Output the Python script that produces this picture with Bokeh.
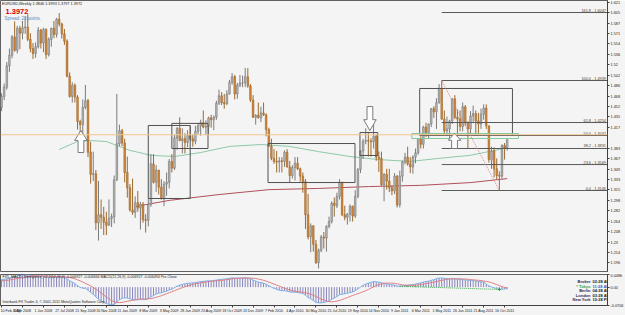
from bokeh.plotting import figure
from bokeh.layouts import column
from bokeh.models import ColumnDataSource, FixedTicker, Range1d, Label, Span
from bokeh.embed import file_html
from bokeh.resources import INLINE
from bokeh.core.properties import value

# ---------------- data ----------------
date_labels = ["10 Feb 2008", "6 Apr 2008", "1 Jun 2008", "27 Jul 2008", "21 Sep 2008", "16 Nov 2008",
               "11 Jan 2009", "8 Mar 2009", "3 May 2009", "28 Jun 2009", "23 Aug 2009", "18 Oct 2009",
               "13 Dec 2009", "7 Feb 2010", "4 Apr 2010", "30 May 2010", "25 Jul 2010", "19 Sep 2010",
               "14 Nov 2010", "9 Jan 2011", "6 Mar 2011", "1 May 2011", "26 Jun 2011", "21 Aug 2011",
               "16 Oct 2011"]
date_label_weeks = [0, 8, 16, 24, 32, 40, 48, 56, 64, 72, 80, 88, 96, 104, 112, 120, 128, 136, 144,
                    152, 160, 168, 176, 184, 192]

first_open = 1.4500
closes = [
    1.4680, 1.4830, 1.5180, 1.5350, 1.5650, 1.5430, 1.5790, 1.5710, 1.5800, 1.5810,
    1.5610, 1.5460, 1.5380, 1.5490, 1.5760, 1.5550, 1.5770, 1.5360, 1.5610, 1.5790,
    1.5690, 1.5940, 1.5860, 1.5700, 1.5580, 1.5010, 1.4680, 1.4860, 1.4670, 1.4270,
    1.4220, 1.4500, 1.4610, 1.3770, 1.3410, 1.3420, 1.2620, 1.2750, 1.2710, 1.2630,
    1.2580, 1.2690, 1.2720, 1.3320, 1.3910, 1.4120, 1.3920, 1.3440, 1.3190, 1.2830,
    1.2790, 1.2950, 1.2860, 1.2920, 1.2670, 1.2660, 1.2920, 1.3580, 1.3280, 1.3480,
    1.3200, 1.3010, 1.3250, 1.3280, 1.3620, 1.3510, 1.4000, 1.4160, 1.3960, 1.3990,
    1.3930, 1.4040, 1.3990, 1.3950, 1.4110, 1.4200, 1.4250, 1.4180, 1.4190, 1.4330,
    1.4300, 1.4340, 1.4570, 1.4690, 1.4580, 1.4560, 1.4720, 1.4910, 1.5000, 1.4720,
    1.4860, 1.4900, 1.4900, 1.5000, 1.4850, 1.4620, 1.4340, 1.4370, 1.4330, 1.4410,
    1.4380, 1.4140, 1.3870, 1.3670, 1.3620, 1.3610, 1.3630, 1.3620, 1.3770, 1.3530,
    1.3390, 1.3520, 1.3590, 1.3500, 1.3380, 1.3290, 1.2750, 1.2390, 1.2570, 1.2270,
    1.1970, 1.2170, 1.2390, 1.2370, 1.2560, 1.2640, 1.2940, 1.2900, 1.3050, 1.3280,
    1.2750, 1.2710, 1.2760, 1.2890, 1.2730, 1.3050, 1.3490, 1.3790, 1.3950, 1.3960,
    1.3950, 1.3940, 1.4030, 1.3690, 1.3670, 1.3240, 1.3410, 1.3300, 1.3190, 1.3140,
    1.3380, 1.2910, 1.3380, 1.3610, 1.3690, 1.3580, 1.3530, 1.3690, 1.3760, 1.3990,
    1.3900, 1.4180, 1.4090, 1.4230, 1.4480, 1.4430, 1.4580, 1.4810, 1.4310, 1.4120,
    1.4150, 1.4280, 1.4640, 1.4340, 1.4310, 1.4190, 1.4510, 1.4260, 1.4150, 1.4360,
    1.4400, 1.4280, 1.4230, 1.4390, 1.4490, 1.4200, 1.3650, 1.3790, 1.3500, 1.3390,
    1.3380, 1.3880, 1.3846, 1.3972]
highs = [
    1.4730, 1.4890, 1.5240, 1.5460, 1.5680, 1.5903, 1.5830, 1.5830, 1.5910, 1.5980,
    1.6019, 1.5710, 1.5550, 1.5560, 1.5810, 1.5780, 1.5800, 1.5790, 1.5640, 1.5800,
    1.5910, 1.5960, 1.6038, 1.5880, 1.5780, 1.5610, 1.5070, 1.4910, 1.4890, 1.4700,
    1.4300, 1.4630, 1.4867, 1.4640, 1.3940, 1.3780, 1.3480, 1.3300, 1.3000, 1.2880,
    1.2800, 1.3000, 1.2770, 1.3390, 1.4720, 1.4220, 1.4150, 1.3990, 1.3700, 1.3250,
    1.3340, 1.3050, 1.3140, 1.2960, 1.2960, 1.2760, 1.3010, 1.3740, 1.3740, 1.3560,
    1.3480, 1.3330, 1.3300, 1.3440, 1.3660, 1.3740, 1.4050, 1.4180, 1.4340, 1.4160,
    1.4080, 1.4130, 1.4200, 1.4060, 1.4200, 1.4250, 1.4300, 1.4450, 1.4290, 1.4350,
    1.4380, 1.4370, 1.4610, 1.4790, 1.4750, 1.4720, 1.4780, 1.4950, 1.5060, 1.5030,
    1.4900, 1.5030, 1.5020, 1.5144, 1.5140, 1.4880, 1.4700, 1.4390, 1.4580, 1.4510,
    1.4580, 1.4400, 1.4170, 1.3990, 1.3820, 1.3790, 1.3690, 1.3690, 1.3800, 1.3820,
    1.3630, 1.3560, 1.3690, 1.3690, 1.3520, 1.3440, 1.3330, 1.3090, 1.2610, 1.2580,
    1.2340, 1.2200, 1.2420, 1.2470, 1.2580, 1.2720, 1.2970, 1.3030, 1.3110, 1.3330,
    1.3290, 1.2900, 1.2780, 1.2920, 1.2900, 1.3150, 1.3510, 1.3800, 1.3990, 1.4160,
    1.4090, 1.4000, 1.4281, 1.4060, 1.3780, 1.3780, 1.3430, 1.3500, 1.3500, 1.3230,
    1.3430, 1.3400, 1.3470, 1.3630, 1.3760, 1.3860, 1.3690, 1.3720, 1.3830, 1.4000,
    1.4030, 1.4200, 1.4250, 1.4240, 1.4490, 1.4520, 1.4650, 1.4880, 1.4939, 1.4450,
    1.4350, 1.4300, 1.4650, 1.4700, 1.4470, 1.4450, 1.4580, 1.4540, 1.4270, 1.4440,
    1.4530, 1.4450, 1.4410, 1.4480, 1.4550, 1.4550, 1.4200, 1.3860, 1.3850, 1.3670,
    1.3460, 1.3900, 1.3920, 1.3993]
lows = [
    1.4440, 1.4620, 1.4790, 1.5080, 1.5300, 1.5410, 1.5380, 1.5450, 1.5610, 1.5700,
    1.5580, 1.5400, 1.5290, 1.5310, 1.5460, 1.5460, 1.5400, 1.5290, 1.5330, 1.5490,
    1.5630, 1.5640, 1.5820, 1.5620, 1.5520, 1.4990, 1.4660, 1.4580, 1.4580, 1.4140,
    1.3880, 1.4010, 1.4470, 1.3690, 1.3260, 1.3300, 1.2500, 1.2330, 1.2520, 1.2420,
    1.2420, 1.2570, 1.2550, 1.2610, 1.3300, 1.3870, 1.3870, 1.3280, 1.3030, 1.2800,
    1.2750, 1.2700, 1.2800, 1.2510, 1.2620, 1.2460, 1.2560, 1.2880, 1.3260, 1.3120,
    1.3080, 1.3000, 1.2890, 1.3060, 1.3180, 1.3440, 1.3480, 1.3810, 1.3950, 1.3750,
    1.3750, 1.3850, 1.3960, 1.3860, 1.3900, 1.4060, 1.4040, 1.4160, 1.4050, 1.4050,
    1.4170, 1.4130, 1.4300, 1.4540, 1.4540, 1.4480, 1.4540, 1.4710, 1.4870, 1.4630,
    1.4640, 1.4830, 1.4830, 1.4830, 1.4820, 1.4590, 1.4330, 1.4220, 1.4320, 1.4260,
    1.4360, 1.4030, 1.3860, 1.3640, 1.3580, 1.3440, 1.3440, 1.3440, 1.3530, 1.3520,
    1.3270, 1.3340, 1.3310, 1.3480, 1.3290, 1.3110, 1.2520, 1.2350, 1.2140, 1.2150,
    1.1950, 1.1876, 1.2140, 1.2200, 1.2150, 1.2530, 1.2610, 1.2720, 1.2860, 1.3000,
    1.2730, 1.2660, 1.2590, 1.2640, 1.2640, 1.2700, 1.3020, 1.3430, 1.3660, 1.3900,
    1.3700, 1.3700, 1.3830, 1.3630, 1.3450, 1.3220, 1.2970, 1.3160, 1.3120, 1.3070,
    1.3090, 1.2870, 1.2870, 1.3290, 1.3570, 1.3550, 1.3430, 1.3420, 1.3590, 1.3730,
    1.3830, 1.3830, 1.4020, 1.4000, 1.4180, 1.4330, 1.4150, 1.4560, 1.4300, 1.4060,
    1.4040, 1.3970, 1.4230, 1.4310, 1.4050, 1.4110, 1.4110, 1.4200, 1.3840, 1.4050,
    1.4260, 1.4050, 1.4060, 1.4150, 1.4300, 1.4150, 1.3600, 1.3500, 1.3360, 1.3330,
    1.3146, 1.3340, 1.3650, 1.3797]

# MACD (main) and signal, in thousandths
macd_milli = [
    30, 31, 33, 36, 40, 42, 44, 46, 47, 48,
    48, 47, 45, 44, 44, 43, 43, 41, 40, 40,
    40, 41, 42, 41, 39, 33, 25, 20, 14, 6,
    -1, -4, -5, -12, -21, -28, -39, -47, -54, -60,
    -65, -68, -70, -68, -60, -50, -44, -42, -43, -46,
    -49, -50, -50, -49, -49, -49, -46, -38, -33, -27,
    -24, -22, -19, -16, -11, -8, -2, 4, 8, 11,
    13, 15, 16, 17, 18, 20, 22, 23, 24, 25,
    25, 26, 28, 30, 31, 32, 33, 35, 37, 36,
    36, 36, 36, 37, 36, 33, 28, 24, 20, 18,
    16, 12, 6, 0, -5, -9, -12, -14, -14, -16,
    -19, -20, -20, -21, -23, -25, -32, -41, -46, -53,
    -60, -62, -62, -61, -58, -54, -48, -43, -37, -30,
    -28, -26, -24, -21, -19, -14, -7, 0, 7, 12,
    16, 19, 22, 21, 20, 17, 15, 13, 11, 9,
    8, 4, 4, 5, 7, 8, 9, 10, 12, 15,
    17, 20, 22, 24, 27, 30, 33, 36, 36, 35,
    34, 33, 34, 33, 32, 30, 30, 29, 27, 26,
    26, 24, 22, 21, 21, 12, 5, 1, -3, -6,
    -9, -8, -7, -7]
signal_milli = [
    25, 26, 27, 28, 30, 32, 34, 36, 38, 40,
    42, 43, 44, 45, 45, 45, 45, 44, 44, 43,
    42, 42, 41, 41, 41, 40, 38, 36, 33, 29,
    25, 20, 15, 10, 5, -1, -8, -15, -23, -31,
    -39, -46, -53, -58, -61, -61, -60, -58, -56, -54,
    -52, -50, -48, -47, -47, -47, -46, -45, -43, -40,
    -37, -34, -30, -26, -22, -18, -14, -10, -6, -2,
    2, 5, 8, 11, 13, 15, 17, 19, 20, 22,
    23, 24, 25, 26, 27, 28, 30, 31, 33, 34,
    35, 35, 36, 36, 36, 36, 35, 34, 32, 30,
    27, 24, 20, 16, 12, 8, 4, 0, -4, -8,
    -11, -14, -16, -18, -19, -20, -22, -25, -28, -32,
    -37, -42, -47, -51, -55, -57, -58, -57, -55, -53,
    -49, -45, -41, -37, -33, -29, -26, -22, -18, -14,
    -9, -4, 1, 6, 10, 13, 15, 16, 16, 16,
    15, 13, 11, 9, 8, 7, 7, 7, 8, 9,
    10, 12, 14, 16, 18, 20, 22, 25, 27, 29,
    31, 32, 33, 33, 33, 33, 33, 32, 31, 30,
    29, 28, 27, 26, 24, 23, 21, 18, 14, 10,
    6, 2, -1, -3]

# moving averages (week index, price)
ma_green_weeks = [22, 29, 34, 40, 49, 57, 66, 76, 87, 99, 110, 121, 133, 144, 156, 167, 179, 190, 193]
ma_green_vals = [1.3815, 1.3945, 1.3960, 1.3945, 1.3800, 1.3720, 1.3700, 1.3765, 1.3865, 1.3895,
                 1.3865, 1.3780, 1.3700, 1.3650, 1.3620, 1.3670, 1.3720, 1.3815, 1.3860]
ma_red_weeks = [51, 64, 83, 102, 121, 140, 160, 179, 193]
ma_red_vals = [1.2885, 1.2985, 1.3080, 1.3160, 1.3180, 1.3210, 1.3230, 1.3275, 1.3340]

# Fibonacci retracement (drawn from the May 2011 high to the Oct 2011 low)
fib_start_week, fib_end_week = 168, 190
fib_high, fib_low = 1.4939, 1.3146
fib_levels = [161.8, 100.0, 61.8, 50.0, 38.2, 23.6, 0.0]

# user-drawn objects: rectangles (week from, week to, top price, bottom price)
rect_left = [56.0, 65.0, 101.7, 136.8, 159.6]
rect_right = [72.0, 78.8, 134.9, 143.6, 195.0]
rect_top = [1.4206, 1.4240, 1.3912, 1.4091, 1.4809]
rect_bottom = [1.3016, 1.3831, 1.3276, 1.3717, 1.4043]
zone_left, zone_right, zone_top, zone_bottom = 156.6, 197.3, 1.4075, 1.3994
# hollow arrows (week, tip price, tail price)
arrow_week = [30.3, 140.6, 172.9]
arrow_tip = [1.4124, 1.4124, 1.4075]
arrow_tail = [1.3765, 1.4515, 1.3831]

price_ticks = [1.6215, 1.6045, 1.5875, 1.5705, 1.5535, 1.5365, 1.5195, 1.5025, 1.4855, 1.4685,
               1.4515, 1.4345, 1.4175, 1.3835, 1.3665, 1.3495, 1.3325, 1.3155, 1.2985,
               1.2815, 1.2645, 1.2475, 1.2305, 1.2135, 1.1965]
macd_ticks = [0.0486, 0.0, -0.0706]
hline_price = 1.4055
last_price = 1.3972
header = "EURUSD,Weekly  1.3846 1.3993 1.3797 1.3972"
spread_text = "Spread: 23 points."
ind_title = "FX5_MACD_Divergence_v1.1(12,26,9) -0.006927 -0.006846  MACD(12,26,9) -0.006927 -0.006494  Pre-Close"
copyright_text = "Interbank FX Trader 4, \u00a9 2001-2011 MetaQuotes Software Corp."
clock_names = ["Broker", "* Tokyo", "Berlin", "London", "New York"]
clock_times = ["02:28 AM", "11:28 AM", "04:28 AM", "03:28 AM", "10:28 PM"]
div_weeks = [152, 190]
div_vals = [0.0035, -0.0090]

# ---------------- styling / layout ----------------
BG = "#f4f4f4"
FONT = "Liberation Sans"
FW = 607
X0 = -0.4
X1 = X0 + FW / 2.62
Y0, Y1 = 1.1826, 1.6243
M0, M1 = -0.0725, 0.0500
xr = Range1d(X0, X1)

n = len(closes)
weeks = list(range(n))
opens = [first_open] + closes[:-1]

p = figure(frame_width=FW, frame_height=271, x_range=xr, y_range=Range1d(Y0, Y1),
           y_axis_location="right", x_axis_location=None, toolbar_location=None,
           output_backend="svg", min_border_left=0, min_border_right=18,
           min_border_top=0, min_border_bottom=2,
           background_fill_color=BG, border_fill_color=BG, outline_line_color="#606060")
p.grid.visible = False
ya = p.yaxis[0]
ya.ticker = FixedTicker(ticks=price_ticks)
ya.major_label_text_font_size = "3.8px"
ya.major_label_text_font = FONT
ya.major_label_text_color = "#202020"
ya.major_label_standoff = 1
ya.major_tick_out = 2
ya.major_tick_in = 0
ya.minor_tick_out = 0
ya.minor_tick_in = 0
ya.axis_line_color = "#404040"
ya.major_tick_line_color = "#404040"

# horizontal line
p.add_layout(Span(location=hline_price, dimension="width", line_color="#f0c48e", line_width=1))

# moving averages
p.line(ma_green_weeks, ma_green_vals, line_color="#8cc9a8", line_width=1)
p.line(ma_red_weeks, ma_red_vals, line_color="#b0505a", line_width=1)

# candles
up = dict(x=[], o=[], c=[], h=[], l=[], top=[], bot=[])
dn = dict(x=[], o=[], c=[], h=[], l=[], top=[], bot=[])
for i in weeks:
    d = up if closes[i] >= opens[i] else dn
    d["x"].append(i); d["o"].append(opens[i]); d["c"].append(closes[i])
    d["h"].append(highs[i]); d["l"].append(lows[i])
    d["top"].append(max(opens[i], closes[i])); d["bot"].append(min(opens[i], closes[i]))
su = ColumnDataSource(up)
sd = ColumnDataSource(dn)
p.segment(x0="x", y0="l", x1="x", y1="h", source=su, line_color="#7c7c7c", line_width=1)
p.segment(x0="x", y0="l", x1="x", y1="h", source=sd, line_color="#9a6a2e", line_width=1)
p.vbar(x="x", top="top", bottom="bot", width=0.62, source=su, fill_color="#b8b8b8", line_color="#787878", line_width=0.6)
p.vbar(x="x", top="top", bottom="bot", width=0.62, source=sd, fill_color="#d4883a", line_color="#a2682a", line_width=0.6)

# rectangles
p.quad(left=rect_left, right=rect_right, top=rect_top, bottom=rect_bottom,
       fill_alpha=0, line_color="#505050", line_width=1)
p.quad(left=[zone_left], right=[zone_right], top=[zone_top], bottom=[zone_bottom],
       fill_alpha=0, line_color="#86c89c", line_width=1)

# fibonacci
fib_prices = [fib_low + lv / 100.0 * (fib_high - fib_low) for lv in fib_levels]
p.segment(x0=[fib_start_week] * len(fib_prices), y0=fib_prices, x1=[X1] * len(fib_prices), y1=fib_prices,
          line_color="#5a5a5a", line_width=1)
p.segment(x0=[fib_start_week], y0=[fib_high], x1=[fib_end_week], y1=[fib_low],
          line_color="#d88888", line_width=1, line_dash="1 1")
fib_texts = ["%.1f - %.4f" % (lv, pr) for lv, pr in zip(fib_levels, fib_prices)]
p.text(x=[X1 - 0.6] * len(fib_prices), y=fib_prices, text=fib_texts, text_align="right",
       text_baseline="bottom", text_font_size="3.8px", text_font=value(FONT), text_color="#404040")

# hollow arrows
xs, ys = [], []
for w, tip, tail in zip(arrow_week, arrow_tip, arrow_tail):
    L = tip - tail
    neck = tip - 0.45 * L
    hw, sw = 2.4, 1.1
    xs.append([w, w + hw, w + sw, w + sw, w - sw, w - sw, w - hw])
    ys.append([tip, neck, neck, tail, tail, neck, neck])
p.patches(xs, ys, fill_color="white", line_color="#7a7a7a", line_width=1)

# header texts
ppx = (Y1 - Y0) / 271.0
wpx = (X1 - X0) / FW
p.text(x=[X0 + 1.5 * wpx], y=[Y1 - 3 * ppx], text=[header], text_baseline="middle",
       text_font_size="3.8px", text_font=value(FONT), text_color="#202020")
p.text(x=[X0 + 5 * wpx], y=[Y1 - 10.5 * ppx], text=[f"{last_price:.4f}"], text_baseline="middle",
       text_font_size="7.5px", text_font_style="bold", text_font=value(FONT), text_color="#e00000")
p.text(x=[X0 + 4 * wpx], y=[Y1 - 18 * ppx], text=[spread_text], text_baseline="middle",
       text_font_size="4.5px", text_font=value(FONT), text_color="#5b8cbf")

# price tags on the axis
p.add_layout(Label(x=X1, y=hline_price, x_offset=1, text=f"{hline_price:.4f}", text_font_size="3.8px",
                   text_baseline="middle", text_color="#202020", background_fill_color="#f3c98e"))
p.add_layout(Label(x=X1, y=last_price, x_offset=1, text=f"{last_price:.4f}", text_font_size="3.8px",
                   text_baseline="middle", text_color="white", background_fill_color="black"))

# ---------------- indicator window ----------------
q = figure(frame_width=FW, frame_height=31, x_range=xr, y_range=Range1d(M0, M1),
           y_axis_location="right", toolbar_location=None, output_backend="svg",
           min_border_left=0, min_border_right=18, min_border_top=1, min_border_bottom=10,
           background_fill_color=BG, border_fill_color=BG, outline_line_color="#606060")
q.grid.visible = False
macd = [m / 1000.0 for m in macd_milli]
sig = [s / 1000.0 for s in signal_milli]
q.segment(x0=weeks, y0=[0] * n, x1=weeks, y1=macd, line_color="#6a68b0", line_width=0.8)
q.line(weeks, macd, line_color="#7fb2e5", line_width=1)
q.line(weeks, sig, line_color="#e07f86", line_width=1)
q.line(div_weeks, div_vals, line_color="#3aa84a", line_width=1, line_dash="1 1")
q.scatter([div_weeks[-1]], [div_vals[-1]], marker="cross", size=3, line_color="#2a9a3a")

qy = q.yaxis[0]
qy.ticker = FixedTicker(ticks=macd_ticks)
qy.major_label_overrides = {0.0486: "0.0486", 0.0: "0.00", -0.0706: "-0.0706"}
qx = q.xaxis[0]
qx.ticker = FixedTicker(ticks=date_label_weeks)
qx.major_label_overrides = {w: t for w, t in zip(date_label_weeks, date_labels)}
for ax in (qy, qx):
    ax.major_label_text_font_size = "3.6px"
    ax.major_label_text_font = FONT
    ax.major_label_text_color = "#202020"
    ax.major_label_standoff = 1
    ax.major_tick_out = 2
    ax.major_tick_in = 0
    ax.minor_tick_out = 0
    ax.minor_tick_in = 0
    ax.axis_line_color = "#404040"
    ax.major_tick_line_color = "#404040"
qy.major_label_text_font_size = "3.8px"
qx.major_label_text_align = "left"

mpx = (M1 - M0) / 31.0
q.text(x=[X0 + 2 * wpx], y=[M1 - 2.5 * mpx], text=[ind_title], text_baseline="middle",
       text_font_size="3.6px", text_font=value(FONT), text_color="#202020")
q.text(x=[X0 + 2 * wpx], y=[M0 + 3.5 * mpx], text=[copyright_text], text_baseline="middle",
       text_font_size="3.6px", text_font=value(FONT), text_color="#202020")
row_y = [M1 - (7 + 4.5 * k) * mpx for k in range(len(clock_names))]
name_colors = ["#1e2a5a", "#3aa04a", "#1e2a5a", "#1e2a5a", "#1e2a5a"]
time_colors = ["#202020", "#2f62c0", "#202020", "#202020", "#202020"]
q.text(x=[X0 + 590 * wpx] * len(row_y), y=row_y, text=clock_names, text_align="right",
       text_baseline="middle", text_font_size="4px", text_font_style="bold", text_font=value(FONT),
       text_color=name_colors)
q.text(x=[X0 + 592 * wpx] * len(row_y), y=row_y, text=clock_times, text_align="left",
       text_baseline="middle", text_font_size="4px", text_font_style="bold", text_font=value(FONT),
       text_color=time_colors)

layout = column(p, q, spacing=0)
open("out.html", "w").write(file_html(layout, INLINE))
